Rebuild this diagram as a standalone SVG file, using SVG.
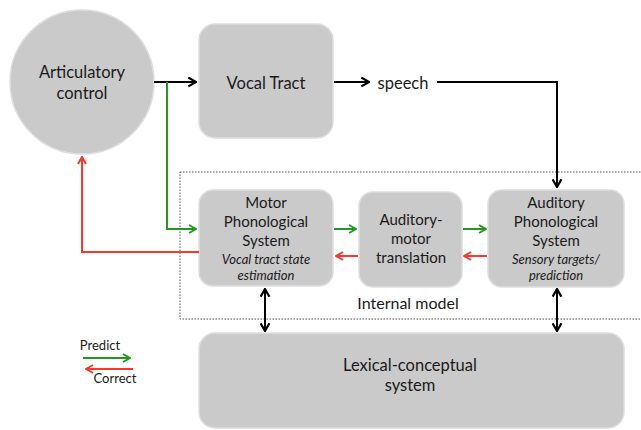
<svg xmlns="http://www.w3.org/2000/svg" width="641" height="430" viewBox="0 0 641 430">
<defs>
<style>
.node{fill:#cacaca;stroke:#dedede;stroke-width:1.5}
.t{font-family:Lato,"Open Sans","Liberation Sans",sans-serif;fill:#1a1a1a;text-anchor:middle}
.m{font-size:15px}
.i{font-size:13px;font-style:italic}
.k{fill:none;stroke:#000;stroke-width:2}
.g{fill:none;stroke:#1f9a1f;stroke-width:2}
.r{fill:none;stroke:#f53a2c;stroke-width:2}
</style>
<marker id="ag" viewBox="0 0 10 10" refX="9" refY="5" markerWidth="10" markerHeight="10" orient="auto" markerUnits="userSpaceOnUse"><path d="M2,1 L9,5 L2,9" fill="none" stroke="#1f9a1f" stroke-width="2"/></marker>
<marker id="ar" viewBox="0 0 10 10" refX="9" refY="5" markerWidth="10" markerHeight="10" orient="auto" markerUnits="userSpaceOnUse"><path d="M2,1 L9,5 L2,9" fill="none" stroke="#f53a2c" stroke-width="2"/></marker>
<marker id="akb" viewBox="0 0 10 10" refX="9" refY="5" markerWidth="11" markerHeight="11" orient="auto-start-reverse" markerUnits="userSpaceOnUse"><path d="M2,1 L9,5 L2,9" fill="none" stroke="#000" stroke-width="2"/></marker>
</defs>
<rect width="641" height="430" fill="#fff"/>
<rect x="180" y="172" width="470" height="147" fill="none" stroke="#555" stroke-width="1" stroke-dasharray="1.5,1.5"/>
<text class="t" x="408" y="309" style="font-size:16px">Internal model</text>

<g id="articulatory-control">
<circle class="node" cx="82" cy="82" r="72"/>
<text class="t" x="82" y="78" style="font-size:16.5px">Articulatory</text>
<text class="t" x="82" y="99" style="font-size:16.5px">control</text>
</g>
<g id="vocal-tract">
<rect class="node" x="199" y="24" width="134" height="114" rx="16"/>
<text class="t" x="266" y="89" style="font-size:16.5px">Vocal Tract</text>
</g>
<g id="speech">
<text class="t" x="403" y="89" style="font-size:16.5px">speech</text>
</g>
<g id="motor-phonological">
<rect class="node" x="199" y="190" width="134" height="96" rx="14"/>
<text class="t m" x="266" y="208">Motor</text>
<text class="t m" x="266" y="227">Phonological</text>
<text class="t m" x="266" y="246">System</text>
<text class="t i" x="266" y="264">Vocal tract state</text>
<text class="t i" x="266" y="280">estimation</text>
</g>
<g id="auditory-motor">
<rect class="node" x="359" y="192" width="103" height="95" rx="14"/>
<text class="t m" x="411" y="225">Auditory-</text>
<text class="t m" x="411" y="244">motor</text>
<text class="t m" x="411" y="263">translation</text>
</g>
<g id="auditory-phonological">
<rect class="node" x="488" y="190" width="136" height="97" rx="14"/>
<text class="t m" x="556" y="208">Auditory</text>
<text class="t m" x="556" y="227">Phonological</text>
<text class="t m" x="556" y="246">System</text>
<text class="t i" x="556" y="264">Sensory targets/</text>
<text class="t i" x="556" y="280">prediction</text>
</g>
<g id="lexical-conceptual">
<rect class="node" x="199" y="333" width="425" height="95" rx="16"/>
<text class="t" x="410" y="371" style="font-size:16.5px">Lexical-conceptual</text>
<text class="t" x="410" y="391" style="font-size:16.5px">system</text>
</g>
<g id="legend">
<text class="t" x="100" y="350" style="font-size:13px">Predict</text>
<path class="g" d="M83,358 H130" marker-end="url(#ag)"/>
<path class="r" d="M133,369 H86" marker-end="url(#ar)"/>
<text class="t" x="115" y="383" style="font-size:13px">Correct</text>
</g>

<g id="connectors">
<path class="k" d="M154,82 H196" marker-end="url(#akb)"/>
<path class="k" d="M334,82 H369" marker-end="url(#akb)"/>
<path class="k" d="M437,82 H557 V187" marker-end="url(#akb)"/>
<path class="g" d="M167,82 V229 H196" marker-end="url(#ag)"/>
<path class="r" d="M199,252 H82 V157" marker-end="url(#ar)"/>
<path class="g" d="M334,229 H356" marker-end="url(#ag)"/>
<path class="r" d="M358,256 H336" marker-end="url(#ar)"/>
<path class="g" d="M463,229 H486" marker-end="url(#ag)"/>
<path class="r" d="M487,256 H464" marker-end="url(#ar)"/>
<path class="k" d="M265,289 V331" marker-start="url(#akb)" marker-end="url(#akb)"/>
<path class="k" d="M557,289 V331" marker-start="url(#akb)" marker-end="url(#akb)"/>
</g>
</svg>
